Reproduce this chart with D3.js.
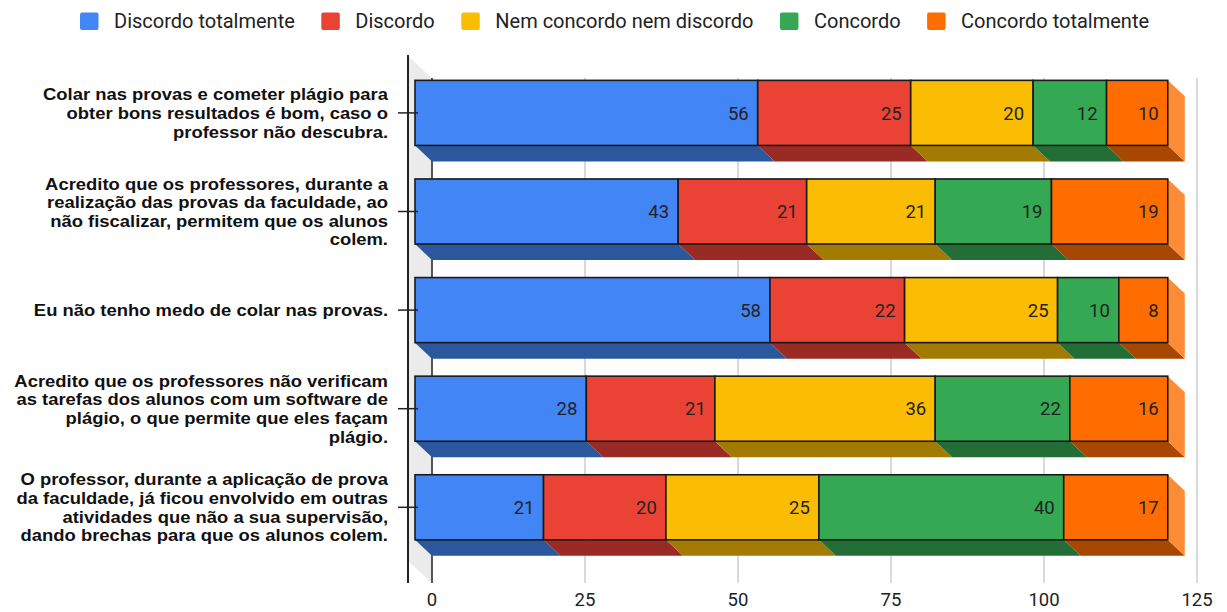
<!DOCTYPE html>
<html>
<head>
<meta charset="utf-8">
<script src="https://cdn.jsdelivr.net/npm/d3@7/dist/d3.min.js"></script>
<style>
  html, body { margin: 0; padding: 0; background: #fff; }
  svg { display: block; }
</style>
</head>
<body>
<svg id="chart" width="1227" height="612"></svg>
<script>
// Survey statements (one per row, line breaks as drawn)
const categories = [
  "Colar nas provas e cometer plágio para\nobter bons resultados é bom, caso o\nprofessor não descubra.",
  "Acredito que os professores, durante a\nrealização das provas da faculdade, ao\nnão fiscalizar, permitem que os alunos\ncolem.",
  "Eu não tenho medo de colar nas provas.",
  "Acredito que os professores não verificam\nas tarefas dos alunos com um software de\nplágio, o que permite que eles façam\nplágio.",
  "O professor, durante a aplicação de prova\nda faculdade, já ficou envolvido em outras\natividades que não a sua supervisão,\ndando brechas para que os alunos colem."
];

// Answer scale
const seriesNames = [
  "Discordo totalmente",
  "Discordo",
  "Nem concordo nem discordo",
  "Concordo",
  "Concordo totalmente"
];

// Counts per answer, one value per statement
const discordoTotalmente   = [56, 43, 58, 28, 21];
const discordo             = [25, 21, 22, 21, 20];
const nemConcordoNemDisc   = [20, 21, 25, 36, 25];
const concordo             = [12, 19, 10, 22, 40];
const concordoTotalmente   = [10, 19, 8, 16, 17];

const xTicks = [0, 25, 50, 75, 100, 125];

const frontColors  = ["#4285f4", "#ea4335", "#fbbc04", "#34a853", "#ff6d01"];
const bottomColors = ["#2b579d", "#9a2a24", "#a47b02", "#236e37", "#a74701"];
const sideColor = "#ff8c35";

const seriesValues = [discordoTotalmente, discordo, nemConcordoNemDisc, concordo, concordoTotalmente];

const svg = d3.select("#chart");

// Depth offset of the bars and of the back wall
const dx = 17, dy = 16;
const wallDx = 24, wallDy = 22;

const x = d3.scaleLinear().domain([0, 125]).range([415, 1180]);
const y = d3.scaleBand().domain(d3.range(categories.length))
  .range([63.6, 556.6]).paddingInner(0.34).paddingOuter(0.17);

const axisX = 408, plotTop = 56, plotBottom = 583;

// Left wall
svg.append("path")
  .attr("d", `M${axisX},${plotTop} L${axisX + wallDx},${plotTop + wallDy} L${axisX + wallDx},${plotBottom} L${axisX},${plotBottom - wallDy} Z`)
  .attr("fill", "#ebebeb");

// Gridlines on the back wall
svg.append("g").selectAll("line")
  .data(xTicks.filter(t => t > 0))
  .join("line")
  .attr("x1", d => x(d) + dx).attr("x2", d => x(d) + dx)
  .attr("y1", plotTop + wallDy).attr("y2", plotBottom)
  .attr("stroke", "#cccccc").attr("stroke-width", 1.5);

// Baseline on the back wall
svg.append("line")
  .attr("x1", x(0) + dx).attr("x2", x(0) + dx)
  .attr("y1", plotTop + wallDy).attr("y2", plotBottom)
  .attr("stroke", "#222").attr("stroke-width", 1.5);

// Stack the series
const rows = categories.map((c, i) => {
  let acc = 0;
  return seriesValues.map((vals, s) => {
    const v = vals[i];
    const seg = { row: i, s, v, x0: acc, x1: acc + v };
    acc += v;
    return seg;
  });
});

const bars = svg.append("g");
rows.forEach((segs, i) => {
  const top = y(i), h = y.bandwidth(), bot = top + h;
  const g = bars.append("g");
  // bottom faces
  g.selectAll("path.bottom").data(segs).join("path")
    .attr("class", "bottom")
    .attr("d", d => `M${x(d.x0)},${bot} L${x(d.x1)},${bot} L${x(d.x1) + dx},${bot + dy} L${x(d.x0) + dx},${bot + dy} Z`)
    .attr("fill", d => bottomColors[d.s]);
  // right side face of the last segment
  const last = segs[segs.length - 1];
  g.append("path")
    .attr("d", `M${x(last.x1)},${top} L${x(last.x1) + dx},${top + dy} L${x(last.x1) + dx},${bot + dy} L${x(last.x1)},${bot} Z`)
    .attr("fill", sideColor);
  // front faces
  g.selectAll("rect.front").data(segs).join("rect")
    .attr("class", "front")
    .attr("x", d => x(d.x0)).attr("y", top)
    .attr("width", d => x(d.x1) - x(d.x0)).attr("height", h)
    .attr("fill", d => frontColors[d.s])
    .attr("stroke", "#1a1a1a").attr("stroke-width", 1.6);
  // value labels
  g.selectAll("text.val").data(segs).join("text")
    .attr("class", "val")
    .attr("x", d => x(d.x1) - 9)
    .attr("y", top + h / 2)
    .attr("dy", "0.36em")
    .attr("text-anchor", "end")
    .attr("font-family", "Roboto, sans-serif")
    .attr("font-size", 18.5)
    .attr("fill", "#222")
    .text(d => d.v);
});

// Vertical axis line and ticks
svg.append("line")
  .attr("x1", axisX).attr("x2", axisX)
  .attr("y1", plotTop - 1).attr("y2", plotBottom)
  .attr("stroke", "#222").attr("stroke-width", 2);

svg.append("g").selectAll("line")
  .data(d3.range(categories.length))
  .join("line")
  .attr("x1", 398).attr("x2", 418)
  .attr("y1", i => y(i) + y.bandwidth() / 2).attr("y2", i => y(i) + y.bandwidth() / 2)
  .attr("stroke", "#222").attr("stroke-width", 1.5);

// Category labels, right-aligned against the axis
const lineH = 18.6;
svg.append("g")
  .attr("transform", "translate(388,0) scale(1.06,1)")
  .selectAll("text")
  .data(categories)
  .join("text")
  .attr("font-family", "'Liberation Sans', Arial, sans-serif")
  .attr("font-weight", "bold")
  .attr("font-size", 17.4)
  .attr("fill", "#111")
  .attr("text-anchor", "end")
  .each(function (c, i) {
    const lines = c.split("\n");
    const cy = y(i) + y.bandwidth() / 2;
    const y0 = cy - (lines.length - 1) * lineH / 2;
    d3.select(this).selectAll("tspan").data(lines).join("tspan")
      .attr("x", 0)
      .attr("y", (l, k) => y0 + k * lineH)
      .attr("dy", "0.35em")
      .text(l => l);
  });

// Horizontal axis tick labels
svg.append("g").selectAll("text")
  .data(xTicks)
  .join("text")
  .attr("x", d => x(d) + dx)
  .attr("y", 606)
  .attr("text-anchor", "middle")
  .attr("font-family", "Roboto, sans-serif")
  .attr("font-size", 18.5)
  .attr("fill", "#222")
  .text(d => d);

// Legend
const legend = svg.append("g");
let lx = 80;
seriesNames.forEach((name, s) => {
  legend.append("rect")
    .attr("x", lx).attr("y", 12.5).attr("width", 18.5).attr("height", 17.5)
    .attr("rx", 2).attr("fill", frontColors[s]);
  const t = legend.append("text")
    .attr("x", lx + 34).attr("y", 21).attr("dy", "0.36em")
    .attr("font-family", "Roboto, sans-serif")
    .attr("font-size", 20)
    .attr("fill", "#222")
    .text(name);
  lx += 34 + t.node().getComputedTextLength() + 26.5;
});
</script>
</body>
</html>
